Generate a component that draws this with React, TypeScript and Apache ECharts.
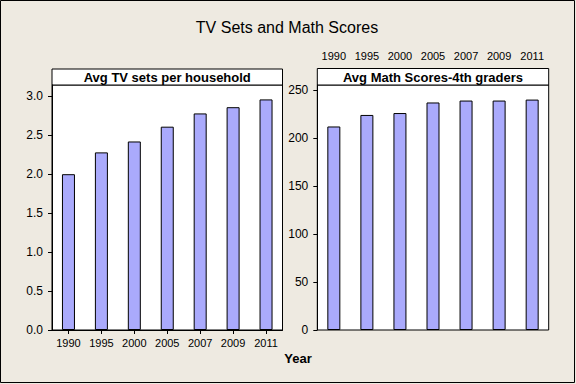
import React, { useEffect, useRef } from "react";
import * as echarts from "echarts";

const years = ["1990", "1995", "2000", "2005", "2007", "2009", "2011"];
const tvSets = [2.0, 2.28, 2.42, 2.61, 2.78, 2.86, 2.96];
const mathScores = [212, 224, 226, 237, 239, 239, 240];
const tvTicks = [0, 0.5, 1.0, 1.5, 2.0, 2.5, 3.0];
const mathTicks = [0, 50, 100, 150, 200, 250];

const mainTitle = "TV Sets and Math Scores";
const leftPanelTitle = "Avg TV sets per household";
const rightPanelTitle = "Avg Math Scores-4th graders";
const xTitle = "Year";

const FONT = "Tahoma, 'Liberation Sans', Arial, sans-serif";
const BG = "#EEEAE1";
const BAR = "#AAAAFC";

export default function App() {
  const ref = useRef<HTMLDivElement>(null);

  useEffect(() => {
    if (!ref.current) return;
    const chart = echarts.init(ref.current, undefined, { renderer: "svg" });

    const L = { left: 52, top: 85, width: 230.5, height: 245 };
    const R = { left: 317.3, top: 85, width: 231.4, height: 245 };

    const yAxisCommon = (ticks: number[], fmt: (v: number) => string) => ({
      type: "value" as const,
      min: 0,
      axisLine: { show: true, lineStyle: { color: "#000", width: 1 } },
      axisTick: { show: true, length: 4, lineStyle: { color: "#000" }, customValues: ticks },
      axisLabel: {
        show: true,
        margin: 9,
        color: "#000",
        fontSize: 12,
        fontFamily: FONT,
        customValues: ticks,
        formatter: (v: number) => fmt(v),
      },
      splitLine: { show: false },
    });

    const option: any = {
      animation: false,
      backgroundColor: BG,
      textStyle: { fontFamily: FONT },
      grid: [
        {
          left: L.left,
          top: L.top,
          width: L.width,
          height: L.height,
          show: true,
          backgroundColor: "#fff",
          borderColor: "#000",
          borderWidth: 1,
        },
        {
          left: R.left,
          top: R.top,
          width: R.width,
          height: R.height,
          show: true,
          backgroundColor: "#fff",
          borderColor: "#000",
          borderWidth: 1,
        },
      ],
      xAxis: [
        {
          type: "category",
          gridIndex: 0,
          data: years,
          position: "bottom",
          axisLine: { show: true, lineStyle: { color: "#000" } },
          axisTick: { show: true, alignWithLabel: true, length: 4, lineStyle: { color: "#000" } },
          axisLabel: { margin: 7, color: "#000", fontSize: 11, fontFamily: FONT, interval: 0 },
        },
        {
          type: "category",
          gridIndex: 1,
          data: years,
          position: "top",
          offset: 17,
          axisLine: { show: false },
          axisTick: { show: true, alignWithLabel: true, length: 4, lineStyle: { color: "#000" } },
          axisLabel: { margin: 7, color: "#000", fontSize: 11, fontFamily: FONT, interval: 0 },
        },
      ],
      yAxis: [
        { ...yAxisCommon(tvTicks, (v) => v.toFixed(1)), gridIndex: 0, max: 3.145 },
        { ...yAxisCommon(mathTicks, (v) => String(v)), gridIndex: 1, max: 255.2 },
      ],
      series: [
        {
          type: "bar",
          xAxisIndex: 0,
          yAxisIndex: 0,
          data: tvSets,
          barWidth: 13,
          itemStyle: { color: BAR, borderColor: "#000", borderWidth: 1 },
        },
        {
          type: "bar",
          xAxisIndex: 1,
          yAxisIndex: 1,
          data: mathScores,
          barWidth: 13,
          itemStyle: { color: BAR, borderColor: "#000", borderWidth: 1 },
        },
      ],
      graphic: [
        {
          type: "rect",
          shape: { x: 0.5, y: 0.5, width: 574, height: 382 },
          style: { fill: "none", stroke: "#000", lineWidth: 1 },
          silent: true,
        },
        {
          type: "text",
          x: 287,
          y: 27,
          style: {
            text: mainTitle,
            fontSize: 16,
            fontFamily: FONT,
            fill: "#000",
            textAlign: "center",
            textVerticalAlign: "middle",
          },
        },
        {
          type: "rect",
          shape: { x: L.left, y: 69, width: L.width, height: 16 },
          style: { fill: "#fff", stroke: "#000", lineWidth: 1 },
        },
        {
          type: "text",
          x: L.left + L.width / 2,
          y: 77.5,
          style: {
            text: leftPanelTitle,
            fontSize: 13,
            fontWeight: "bold",
            fontFamily: FONT,
            fill: "#000",
            textAlign: "center",
            textVerticalAlign: "middle",
          },
        },
        {
          type: "rect",
          shape: { x: R.left, y: 68.5, width: R.width, height: 16.5 },
          style: { fill: "#fff", stroke: "#000", lineWidth: 1 },
        },
        {
          type: "text",
          x: R.left + R.width / 2,
          y: 77,
          style: {
            text: rightPanelTitle,
            fontSize: 13,
            fontWeight: "bold",
            fontFamily: FONT,
            fill: "#000",
            textAlign: "center",
            textVerticalAlign: "middle",
          },
        },
        {
          type: "text",
          x: 298,
          y: 358,
          style: {
            text: xTitle,
            fontSize: 13,
            fontWeight: "bold",
            fontFamily: FONT,
            fill: "#000",
            textAlign: "center",
            textVerticalAlign: "middle",
          },
        },
      ],
    };

    chart.setOption(option);
    return () => chart.dispose();
  }, []);

  return (
    <div
      ref={ref}
      style={{ position: "fixed", left: 0, top: 0, width: 576, height: 384 }}
    />
  );
}
